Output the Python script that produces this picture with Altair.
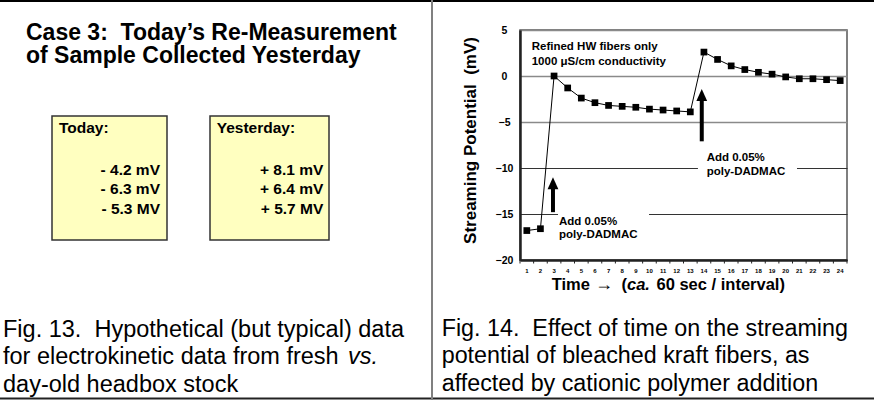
import altair as alt
import pandas as pd

# ---------------- data ----------------
time_steps = list(range(1, 25))
potential_mv = [-16.8, -16.6, 0.0, -1.3, -2.4, -2.9, -3.2, -3.3, -3.4, -3.6, -3.7, -3.8,
                -3.9, 2.6, 1.8, 1.1, 0.7, 0.4, 0.2, -0.1, -0.3, -0.3, -0.4, -0.5]
y_ticks = [-20, -15, -10, -5, 0, 5]
x_tick_edges = [i + 0.5 for i in range(0, 25)]

NB = "\u00a0"
title_lines = ["Case 3:" + NB + NB + "Today\u2019s Re-Measurement", "of Sample Collected Yesterday"]
today_header = "Today:"
today_values = ["- 4.2 mV", "- 6.3 mV", "- 5.3 MV"]
yesterday_header = "Yesterday:"
yesterday_values = ["+ 8.1 mV", "+ 6.4 mV", "+ 5.7 MV"]

caption13 = ["Fig. 13." + NB + NB + "Hypothetical (but typical) data",
             "for electrokinetic data from fresh",
             "day-old headbox stock"]
caption13_italic = "vs."
caption14 = ["Fig. 14." + NB + NB + "Effect of time on the streaming",
             "potential of bleached kraft fibers, as",
             "affected by cationic polymer addition"]

note_lines = ["Refined HW fibers only", "1000 \u03bcS/cm conductivity"]
add_lines = ["Add 0.05%", "poly-DADMAC"]
x_title_parts = ["Time", "\u2192", "(", "ca.", "60 sec / interval)"]
y_title = "Streaming Potential" + NB + NB + "(mV)"

SANS = "Liberation Sans, Arial, sans-serif"

df = pd.DataFrame({"time": time_steps, "potential": potential_mv})
one = pd.DataFrame({"k": [0]})
edges = pd.DataFrame({"edge": x_tick_edges})

xscale = alt.Scale(domain=[0.5, 24.5], nice=False, zero=False)
yscale = alt.Scale(domain=[-20, 5], nice=False, zero=False)

x_enc = alt.X("time:Q", scale=xscale,
              axis=alt.Axis(values=time_steps, title=None, ticks=False, labels=False,
                            grid=False, domainColor="#222", domainWidth=2.5))
y_enc = alt.Y("potential:Q", scale=yscale,
              axis=alt.Axis(values=y_ticks, title=y_title, ticks=False,
                            labelFontSize=10.5, labelFontWeight="bold", labelFont=SANS,
                            labelColor="black", labelAlign="center", labelPadding=16,
                            labelOverlap=False,
                            grid=True,
                            gridColor={"condition": {"test": "datum.value >= -5",
                                                     "value": "#8a8a8a"},
                                       "value": "#333333"},
                            gridWidth={"condition": {"test": "datum.value >= -5",
                                                     "value": 1.7},
                                       "value": 1.0},
                            domainColor="#222", domainWidth=2.5,
                            titleFont=SANS, titleFontSize=17, titleFontWeight="bold",
                            titleColor="black", titleAngle=270, titleAlign="center",
                            titleBaseline="middle", titleX=-50, titleY=110,
                            labelFlush=False))

series_line = alt.Chart(df).mark_line(color="black", strokeWidth=1).encode(x=x_enc, y=y_enc)
series_pts = alt.Chart(df).mark_square(color="black", size=45, opacity=1).encode(
    x="time:Q", y="potential:Q")

# category labels under the axis, placed through the x scale
x_labels = alt.Chart(df).mark_text(fontSize=6, fontWeight="bold", font=SANS, color="black",
                                   baseline="middle", align="center").encode(
    x="time:Q", y=alt.value(240.5), text=alt.Text("time:Q", format="d"))

tick_marks = alt.Chart(edges).mark_rule(color="#222", strokeWidth=1).encode(
    x="edge:Q", y=alt.value(230), y2=alt.value(233.5))


def txt(lines, x, y, size, weight="bold", align="left", baseline="alphabetic",
        style="normal", lh=None, font=SANS):
    return alt.Chart(one).mark_text(
        align=align, baseline=baseline, fontSize=size, fontWeight=weight,
        fontStyle=style, font=font, color="black", lineHeight=lh or size * 1.2
    ).encode(x=x, y=y, text=alt.value(lines))


def rect_px(x1, x2, y1, y2, fill, stroke=None, sw=0):
    kw = dict(fill=fill, strokeWidth=sw)
    if stroke:
        kw["stroke"] = stroke
    return alt.Chart(one).mark_rect(**kw).encode(
        x=alt.value(x1), x2=alt.value(x2), y=alt.value(y1), y2=alt.value(y2))


def rule_px(x1, x2, y1, y2, color, sw):
    return alt.Chart(one).mark_rule(color=color, strokeWidth=sw).encode(
        x=alt.value(x1), x2=alt.value(x2), y=alt.value(y1), y2=alt.value(y2))


# white knock-outs behind annotation labels (data coordinates)
def knock(x1, x2, y1, y2):
    return alt.Chart(one).mark_rect(fill="white").encode(
        x=alt.datum(x1), x2=alt.datum(x2), y=alt.datum(y1), y2=alt.datum(y2))


ARROW = "M0,0 L0.45,1 L-0.45,1 Z"


def arrow(x, y_bottom, y_tip):
    shaft = alt.Chart(one).mark_rule(color="black", strokeWidth=4).encode(
        x=alt.datum(x), y=alt.datum(y_bottom), y2=alt.datum(y_tip - 1.0))
    head = alt.Chart(one).mark_point(shape=ARROW, filled=True, size=576, color="black",
                                     opacity=1, strokeWidth=0).encode(
        x=alt.datum(x), y=alt.datum(y_tip))
    return [shaft, head]


XT = 16.5
layers = [
    knock(3.29, 9.97, -14.0, -17.8),
    knock(13.56, 20.83, -8.0, -11.8),
    series_line, series_pts, x_labels, tick_marks,
    *arrow(2.92, -14.8, -11.0),
    *arrow(13.84, -7.1, -1.4),
    txt(note_lines, alt.datum(1.36), alt.datum(3.84), 11.5, baseline="top", lh=15),
    txt(add_lines, alt.datum(3.36), alt.datum(-15.2), 11.5, baseline="top", lh=13.5),
    txt(add_lines, alt.datum(14.2), alt.datum(-8.3), 11.5, baseline="top", lh=13.5),
    # x-axis title with italic "ca."
    txt(x_title_parts[0], alt.value(31.7), alt.value(260), XT),
    txt(x_title_parts[1], alt.value(75), alt.value(259.5), 18, weight="normal"),
    txt(x_title_parts[2], alt.value(101.5), alt.value(260), XT),
    txt(x_title_parts[3], alt.value(107), alt.value(260), XT, style="italic"),
    txt(x_title_parts[4], alt.value(136.5), alt.value(260), XT),
    # left panel
    txt(title_lines, alt.value(-494), alt.value(10), 23, lh=22.5),
    rect_px(-468, -353, 86, 210, "#FFFFC0", "#333", 1.5),
    rect_px(-310, -191, 86, 210, "#FFFFC0", "#333", 1.5),
    txt(today_header, alt.value(-461), alt.value(103.3), 15.5),
    txt(yesterday_header, alt.value(-303.3), alt.value(103.3), 15.5),
    txt(today_values, alt.value(-360), alt.value(145), 15.5, align="right", lh=19.3),
    txt(yesterday_values, alt.value(-196.7), alt.value(145), 15.5, align="right", lh=19.3),
    # captions
    txt(caption13, alt.value(-517), alt.value(306.5), 23.5, weight="normal", lh=27.5),
    txt(caption13_italic, alt.value(-172), alt.value(334), 23.5, weight="normal",
        style="italic"),
    txt(caption14, alt.value(-78.3), alt.value(305.5), 23.3, weight="normal", lh=27.5),
    # page borders
    rule_px(-520, 354, -29, -29, "black", 2),
    rule_px(-520, 354, 368.5, 368.5, "#222", 2),
    rule_px(-88, -88, -30, 370, "#808080", 2),
]

chart = alt.layer(*layers).properties(
    width=327, height=230,
    autosize=alt.AutoSizeParams(type="none"),
    padding={"left": 520, "top": 30, "right": 27, "bottom": 142},
    background="white",
).configure_view(stroke="#555", strokeWidth=1.5)

chart.save("out.html", embed_options={"renderer": "svg", "actions": False})
